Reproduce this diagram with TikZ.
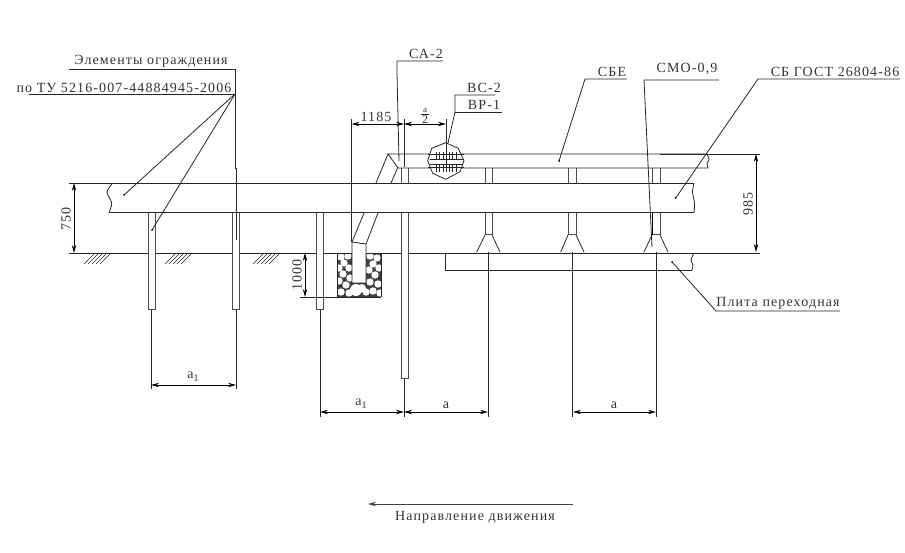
\documentclass[tikz,border=0pt]{standalone}
\usepackage{fontspec}
\newfontfamily\plainfont[LetterSpace=8]{Liberation Serif}
\usetikzlibrary{arrows.meta}
\tikzset{
	thinline/.style={line width=0.8pt, color=black!85},
	postline/.style={line width=1pt, color=black!70, fill=white},
	dimline/.style={line width=0.8pt, color=black, {Stealth[length=8pt,width=4.4pt]}-{Stealth[length=8pt,width=4.4pt]}},
	sign/.style={font=\plainfont\fontsize{14}{16}\selectfont, text=black!80, inner sep=0pt},
}
\def\groundhatch(#1){\draw[thinline, line width=0.5pt] (#1+11, 253) -- (#1, 264) (#1+15, 253) -- (#1+4, 264) (#1+19, 253) -- (#1+8, 264) (#1+23, 253) -- (#1+12, 264) (#1+27, 253) -- (#1+16, 264);}
\def\stone(#1,#2){\fill[white] (#1, #2) circle (3.7);}
\def\subone{\raisebox{-3pt}{\fontsize{10}{10}\selectfont 1}}

\begin{document}
\begin{tikzpicture}[x=1pt, y=-1pt]
			%%%%% START %%%%%
			\useasboundingbox (0, 0) rectangle (905, 553);
			
			\draw[thinline] (69, 253) -- (760, 253);
			\groundhatch(84);
			\groundhatch(165);
			\groundhatch(253);
			
			\draw[thinline] (488, 252) -- (488, 417);
			\draw[thinline] (572.7, 252) -- (572.7, 417);
			\draw[thinline] (656, 252) -- (656, 417);
			\draw[thinline] (151, 310) -- (151, 389);
			\draw[thinline] (236, 310) -- (236, 389);
			\draw[thinline] (320, 310) -- (320, 417);
			\draw[thinline] (404, 378) -- (404, 417);
			
			% posts
			\draw[postline] (148, 205) rectangle (155, 310);
			\draw[postline] (232, 205) rectangle (239, 310);
			\draw[postline] (316, 205) rectangle (323, 310);
			\draw[postline] (401, 160) rectangle (408, 378);
			\draw[postline] (485, 160) rectangle (492, 235);
			\draw[postline] (568, 160) rectangle (576, 235);
			\draw[postline] (652, 160) rectangle (660, 235);
			
			\draw[thinline] (485, 235) -- (476.7, 252) (492, 235) -- (500, 252);
			\draw[thinline] (568, 235) -- (560.7, 252) (576, 235) -- (584, 252);
			\draw[thinline] (652, 235) -- (644, 252) (660, 235) -- (668, 252);
			
			% upper beam
			\draw[thinline, fill=white] plot[smooth] coordinates {(707, 154) (709, 160) (707, 163) (708, 168)} -- (398, 168) -- (388, 154) -- cycle;
			\draw[thinline] (388, 154) -- (376, 183);
			\draw[thinline] (398, 167) -- (391, 183);
			
			% rail
			\fill[white] (109, 183) rectangle (694, 212.6);
			\draw[thinline] (69, 183) -- (694, 183);
			\draw[thinline] (109, 212.6) -- (694, 212.6);
			\draw[thinline] plot[smooth] coordinates {(112.7, 183) (107, 192) (111.7, 203) (109, 212.6)};
			\draw[thinline] plot[smooth] coordinates {(694, 183) (692.5, 192) (694.5, 203) (694, 212.6)};
			
			% lower plate
			\draw[thinline] (445.7, 253) -- (445.7, 270) -- (692, 270);
			\draw[thinline] plot[smooth] coordinates {(694, 253) (691, 260) (693, 265) (692, 270)};
			
			% end piece in the pit
			\fill[black!75] (337, 253) rectangle (381, 297);
			\stone(341, 257);
			\stone(348, 256);
			\stone(344, 263);
			\stone(339, 268);
			\stone(349, 268);
			\stone(343, 274);
			\stone(350, 278);
			\stone(339, 281);
			\stone(346, 285);
			\stone(341, 292);
			\stone(349, 293);
			\stone(370, 256);
			\stone(377, 258);
			\stone(373, 264);
			\stone(379, 268);
			\stone(369, 270);
			\stone(375, 275);
			\stone(370, 282);
			\stone(378, 284);
			\stone(373, 291);
			\stone(366, 292);
			\stone(380, 293);
			\fill[white] (356, 290) circle (6);
			\fill[white] (362, 288) circle (4);
			\draw[thinline] (337, 253) -- (381, 253);
			\draw[thinline] (337, 253) -- (337, 297) (381, 253) -- (381, 297);
			\draw[thinline] (300, 297) -- (381, 297);
			\draw[thinline, fill=white] (364, 213) -- (352, 242) -- (352, 283) -- (366, 283) -- (366, 244) -- (378, 213);
			\draw[thinline] (352, 242) -- (366, 244);
			
			% joint
			\draw[thinline, fill=white] (445.7, 142.7) -- (458.3, 148.3) -- (464, 160.7) -- (460, 171.7) -- (445.7, 179.3) -- (432.7, 173.3) -- (427.7, 160.7) -- (431.7, 148.3) -- cycle;
			\draw[thinline] (427.7, 154) -- (464, 154) (427.7, 167.7) -- (464, 167.7);
			\draw[thinline] (430, 159) -- (463, 159) (430, 164) -- (463, 164);
			\draw[thinline] (436, 152) -- (436, 159) (439.5, 152) -- (439.5, 159) (443, 152) -- (443, 159) (449, 152) -- (449, 159) (452.5, 152) -- (452.5, 159) (456, 152) -- (456, 159);
			\draw[thinline] (436, 164) -- (436, 172) (439.5, 164) -- (439.5, 172) (443, 164) -- (443, 172) (449, 164) -- (449, 172) (452.5, 164) -- (452.5, 172) (456, 164) -- (456, 172);
			\draw[thinline] (446, 119) -- (446, 172);
			
			% right dimension lines
			\draw[thinline] (660, 154) -- (760, 154);
			
			% extension lines
			\draw[thinline] (351.5, 119) -- (351.5, 242);
			\draw[thinline] (404, 119) -- (404, 167);
			
			% dimensions
			\draw[dimline] (74, 183) -- (74, 253);
			\draw[dimline] (756, 154) -- (756, 252);
			\draw[dimline] (305, 253) -- (305, 297);
			\draw[dimline] (351.5, 124) -- (404, 124);
			\draw[dimline] (404, 124) -- (446, 124);
			\draw[dimline] (151, 385) -- (236, 385);
			\draw[dimline] (320, 412) -- (404, 412);
			\draw[dimline] (404, 412) -- (488, 412);
			\draw[dimline] (573, 412) -- (656, 412);
			\draw[line width=0.9pt, color=black!75, -{Stealth[length=8pt,width=4.4pt]}] (573, 504) -- (368, 504);
			\draw[thinline] (421, 114.5) -- (429, 114.5);
			
			% leaders
			\draw[thinline] (69, 69) -- (235, 69) -- (235, 168) -- (236, 168) -- (236, 240);
			\draw[thinline] (29, 94) -- (235, 94);
			\draw[thinline] (235, 94) -- (124, 195);
			\draw[thinline] (235, 94) -- (152, 230);
			\draw[thinline] (443, 61) -- (397, 61) -- (397, 73) -- (399, 161);
			\draw[thinline] (495, 95) -- (455, 95) -- (455, 112) -- (448, 143);
			\draw[thinline] (455, 112) -- (502, 112);
			\draw[thinline] (627, 79) -- (585, 79) -- (559, 161);
			\draw[thinline] (719, 80) -- (644, 80) -- (652, 247);
			\draw[line width=1pt] (652, 213) -- (652, 235);
			\draw[thinline] (900, 79) -- (758, 79) -- (675.7, 198);
			\draw[thinline] (840, 311) -- (716, 311) -- (672, 262);
			\fill (124, 195) circle (1);
			\fill (152, 230) circle (1);
			\fill (559, 161) circle (1);
			\fill (675.7, 198) circle (1);
			\fill (672, 262) circle (1);
			
			% text
			\node[sign] (fence) at (151, 61) {Элементы ограждения};
			\node[sign] (spec) at (124, 88) {по ТУ 5216-007-44884945-2006};
			\node[sign] (sa) at (426, 54) {СА-2};
			\node[sign] (vs) at (484, 88) {ВС-2};
			\node[sign] (vr) at (484, 105) {ВР-1};
			\node[sign] (sbe) at (612, 72) {СБЕ};
			\node[sign] (smo) at (687, 69) {СМО-0,9};
			\node[sign] (sb) at (835, 72) {СБ ГОСТ 26804-86};
			\node[sign] (plate) at (778, 303) {Плита переходная};
			\node[sign] (way) at (475, 517) {Направление движения};
			\node[sign] (d1185) at (376, 117) {1185};
			\node[sign, font=\plainfont\fontsize{9}{10}\selectfont] (half) at (425, 110) {a};
			\node[sign, font=\plainfont\fontsize{12}{13}\selectfont] (two) at (425, 120) {2};
			\node[sign, rotate=90] (d750) at (66, 219) {750};
			\node[sign, rotate=90] (d985) at (748, 204) {985};
			\node[sign, rotate=90] (d1000) at (297, 275) {1000};
			\node[sign] (aone) at (193, 377) {a\subone};
			\node[sign] (atwo) at (361, 404) {a\subone};
			\node[sign] (athree) at (446, 405) {a};
			\node[sign] (afour) at (614, 405) {a};
			%%%%% END %%%%%
		\end{tikzpicture}
\end{document}
